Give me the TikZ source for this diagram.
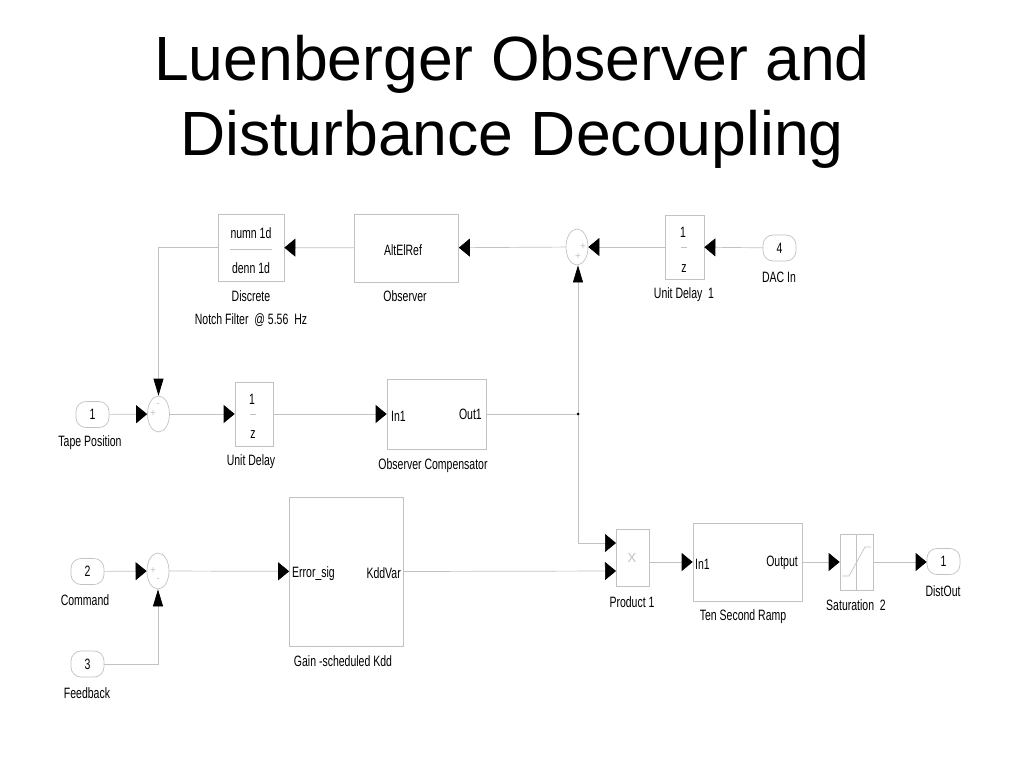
\documentclass[tikz,border=0pt]{standalone}
\usepackage{fontspec}
\setmainfont{Liberation Sans}
\newfontfamily\blockfont[FakeStretch=0.70]{Liberation Sans}
\usetikzlibrary{arrows.meta,shapes.geometric}
\definecolor{wire}{gray}{0.76}
\tikzset{
  block/.style={draw=wire,line width=0.7pt,fill=white,inner sep=0pt},
  sumblk/.style={block,ellipse,minimum width=22pt,minimum height=36pt},
  port/.style={block,rounded corners=10pt,minimum width=33pt,minimum height=26pt,font=\blockfont\fontsize{15}{17}\selectfont},
  lbl/.style={inner sep=0pt,font=\blockfont\fontsize{15}{17}\selectfont},
  sgn/.style={inner sep=0pt,text=wire,font=\fontsize{10}{10}\selectfont},
  conn/.style={draw=wire,line width=0.7pt},
  sig/.style={conn,-{Triangle[length=11pt,width=18pt,fill=black,color=black]}},
  vsig/.style={conn,-{Triangle[length=17pt,width=10pt,fill=black,color=black]}}
}
\begin{document}
\begin{tikzpicture}[x=1pt,y=-1pt]
  \useasboundingbox (0,0) rectangle (1024,768);
  \node[inner sep=0pt,align=center,font=\fontsize{62.5}{75}\selectfont] (title) at (512,102) {Luenberger Observer and\\Disturbance Decoupling};
  % top row
  \node[block,minimum width=66pt,minimum height=67pt] (filter) at (251,247.5) {};
  \node[lbl] (filterNum) at (251,233.5) {numn 1d};
  \node[lbl] (filterDen) at (251,268.5) {denn 1d};
  \draw[conn] (230,249.5) -- (272,249.5);
  \node[lbl] (filterA) at (251,296.5) {Discrete};
  \node[lbl] (filterB) at (251,320.5) {Notch Filter\ \ @ 5.56\ \ Hz};
  \node[block,minimum width=104pt,minimum height=68pt] (obs) at (406.5,248) {};
  \node[lbl] (obsIn) at (403,250) {AltElRef};
  \node[lbl] (obsLbl) at (405,296.5) {Observer};
  \node[sumblk] (sumB) at (577,247) {};
  \node[sgn] (sumBa) at (583,247) {+};
  \node[sgn] (sumBb) at (578,257) {+};
  \node[block,minimum width=39pt,minimum height=64pt] (delayB) at (684.5,247) {};
  \node[lbl] (delayBa) at (683,232) {1};
  \node[lbl] (delayBb) at (684,269) {z};
  \draw[conn] (681,247.5) -- (687,247.5);
  \node[lbl] (delayBl) at (684,295) {Unit Delay\ \ 1};
  \node[port] (dac) at (779.5,248) {4};
  \node[lbl] (dacL) at (779,277) {DAC In};
  % middle row
  \node[port] (tape) at (92.5,414.5) {1};
  \node[lbl] (tapeL) at (90,443) {Tape Position};
  \node[sumblk] (sumA) at (158.5,414) {};
  \node[sgn] (sumAa) at (158,405) {-};
  \node[sgn] (sumAb) at (153,414) {+};
  \node[block,minimum width=38pt,minimum height=64pt] (delayA) at (254,414) {};
  \node[lbl] (delayAa) at (252,399) {1};
  \node[lbl] (delayAb) at (253,435) {z};
  \draw[conn] (250,414) -- (256,414);
  \node[lbl] (delayAl) at (251,461.5) {Unit Delay};
  \node[block,minimum width=99pt,minimum height=70pt] (comp) at (436.5,414) {};
  \node[lbl,anchor=west] (compIn) at (391,416) {In1};
  \node[lbl,anchor=east] (compOut) at (482,414) {Out1};
  \node[lbl] (compL) at (433,465.5) {Observer Compensator};
  \coordinate (branch) at (578,414);
  % bottom row
  \node[port] (cmd) at (87.5,571.5) {2};
  \node[lbl] (cmdL) at (85,600) {Command};
  \node[sumblk] (sumC) at (158,571) {};
  \node[sgn] (sumCa) at (153,571) {+};
  \node[sgn] (sumCb) at (158,580) {-};
  \node[port] (fbk) at (87.5,664) {3};
  \node[lbl] (fbkL) at (87,693) {Feedback};
  \node[block,minimum width=114pt,minimum height=149pt] (gain) at (346.5,571.5) {};
  \node[lbl,anchor=west] (gainIn) at (292,574) {Error\_sig};
  \node[lbl,anchor=east] (gainOut) at (401,573) {KddVar};
  \node[lbl] (gainL) at (343,661) {Gain -scheduled Kdd};
  \node[block,minimum width=33pt,minimum height=57pt] (prod) at (632.5,557.5) {};
  \node[sgn,font=\fontsize{13}{13}\selectfont] (prodX) at (632,558) {X};
  \coordinate (prodA) at (616,543);
  \coordinate (prodB) at (616,571);
  \node[lbl] (prodL) at (632,602) {Product 1};
  \node[block,minimum width=109pt,minimum height=78pt] (ramp) at (747.5,562) {};
  \node[lbl,anchor=west] (rampIn) at (695,564) {In1};
  \node[lbl,anchor=east] (rampOut) at (798,563) {Output};
  \node[lbl] (rampL) at (743,617) {Ten Second Ramp};
  \node[block,minimum width=33pt,minimum height=56pt] (sat) at (856.5,562) {};
  \draw[conn] (856.5,534) -- (856.5,590);
  \draw[conn] (842,576) -- (849,576) -- (865,547) -- (871,547);
  \node[lbl] (satL) at (856,605) {Saturation\ \ 2};
  \node[port] (dist) at (943.5,561.5) {1};
  \node[lbl] (distL) at (943,591) {DistOut};
  % connections
  \draw[sig] (dac) -- (delayB);
  \draw[sig] (delayB) -- (sumB);
  \draw[sig] (sumB) -- (obs);
  \draw[sig] (obs) -- (filter);
  \draw[vsig] (filter.west) -| (sumA.north);
  \draw[sig] (tape) -- (sumA);
  \draw[sig] (sumA) -- (delayA);
  \draw[sig] (delayA) -- (comp);
  \draw[conn] (comp.east) -- (branch);
  \draw[vsig] (branch) -- (branch |- sumB.south);
  \draw[sig] (branch) |- (prodA);
  \fill (branch) circle (1.5pt);
  \draw[sig] (cmd) -- (sumC);
  \draw[vsig] (fbk.east) -| (sumC.south);
  \draw[sig] (sumC) -- (gain);
  \draw[sig] (gain.east) -- (prodB);
  \draw[sig] (prod.east |- ramp.west) -- (ramp.west);
  \draw[sig] (ramp) -- (sat);
  \draw[sig] (sat.east) -- (sat.east -| dist.west);
\end{tikzpicture}
\end{document}
